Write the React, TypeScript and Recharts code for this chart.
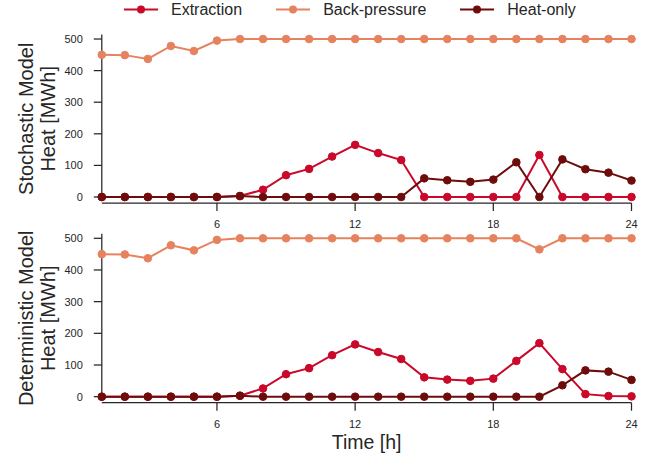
import { LineChart, Line, XAxis, YAxis, ReferenceLine } from "recharts";

const HOURS = [1, 2, 3, 4, 5, 6, 7, 8, 9, 10, 11, 12, 13, 14, 15, 16, 17, 18, 19, 20, 21, 22, 23, 24];
const X_TICKS = [6, 12, 18, 24];
const Y_TICKS = [0, 100, 200, 300, 400, 500];

const STOCH_EXTRACTION = [0, 0, 0, 0, 0, 0, 3, 23, 69, 89, 128, 165, 139, 117, 0, 0, 0, 0, 0, 133, 0, 0, 0, 0];
const STOCH_BACK_PRESSURE = [450, 449, 437, 478, 462, 495, 500, 500, 500, 500, 500, 500, 500, 500, 500, 500, 500, 500, 500, 500, 500, 500, 500, 500];
const STOCH_HEAT_ONLY = [0, 0, 0, 0, 0, 0, 3, 0, 0, 0, 0, 0, 0, 0, 59, 53, 48, 55, 110, 0, 119, 88, 77, 52];

const DET_EXTRACTION = [0, 0, 0, 0, 0, 0, 3, 26, 71, 90, 131, 165, 141, 119, 61, 54, 50, 57, 113, 169, 87, 8, 2, 1];
const DET_BACK_PRESSURE = [450, 449, 437, 478, 462, 495, 500, 500, 500, 500, 500, 500, 500, 500, 500, 500, 500, 500, 500, 465, 500, 500, 500, 500];
const DET_HEAT_ONLY = [0, 0, 0, 0, 0, 0, 3, 0, 0, 0, 0, 0, 0, 0, 0, 0, 0, 0, 0, 0, 36, 83, 79, 53];

const SERIES = [
  { key: "extraction", name: "Extraction", color: "#c9082a" },
  { key: "backPressure", name: "Back-pressure", color: "#e6825e" },
  { key: "heatOnly", name: "Heat-only", color: "#6e0c0c" },
];

const FONT = '"Liberation Sans", Arial, sans-serif';
const INK = "#262626";
const Y_DOMAIN = [-19, 514];

function buildRows(ext: number[], bp: number[], heat: number[]) {
  return HOURS.map((hour, i) => ({
    hour,
    extraction: ext[i],
    backPressure: bp[i],
    heatOnly: heat[i],
  }));
}

const stochRows = buildRows(STOCH_EXTRACTION, STOCH_BACK_PRESSURE, STOCH_HEAT_ONLY);
const detRows = buildRows(DET_EXTRACTION, DET_BACK_PRESSURE, DET_HEAT_ONLY);

// two-line rotated y label, like matplotlib's "A\nB"
function yLabel(lines: string[]) {
  // eslint-disable-next-line @typescript-eslint/no-explicit-any
  return (props: any) => {
    const vb = props.viewBox;
    const cy = vb.y + vb.height / 2;
    return (
      <g>
        {lines.map((t, i) => {
          const x = 33 + i * 22;
          return (
            <text
              key={t}
              x={x}
              y={cy}
              transform={`rotate(-90 ${x} ${cy})`}
              textAnchor="middle"
              fontSize={20}
              fontFamily={FONT}
              fill={INK}
            >
              {t}
            </text>
          );
        })}
      </g>
    );
  };
}

// eslint-disable-next-line @typescript-eslint/no-explicit-any
function timeLabel(props: any) {
  const vb = props.viewBox;
  return (
    <text
      x={vb.x + vb.width / 2}
      y={vb.y + 46.3}
      textAnchor="middle"
      fontSize={19.5}
      fontFamily={FONT}
      fill={INK}
    >
      Time [h]
    </text>
  );
}

const tickStyle = { fontSize: 11, fill: INK, fontFamily: FONT };

function Panel({
  rows,
  labelLines,
  height,
  marginTop,
  marginBottom,
  showTime,
}: {
  rows: ReturnType<typeof buildRows>;
  labelLines: string[];
  height: number;
  marginTop: number;
  marginBottom: number;
  showTime?: boolean;
}) {
  return (
    <LineChart
      width={648}
      height={height}
      data={rows}
      margin={{ top: marginTop, right: 16.5, bottom: marginBottom, left: 41.8 }}
      style={{ overflow: "visible" }}
    >
      <XAxis
        type="number"
        dataKey="hour"
        domain={[1, 24]}
        ticks={X_TICKS}
        height={29}
        tick={tickStyle}
        tickSize={8}
        tickMargin={9}
        axisLine={{ stroke: INK, strokeWidth: 1.25 }}
        tickLine={{ stroke: INK, strokeWidth: 1.25 }}
        label={showTime ? timeLabel : undefined}
      />
      <YAxis
        type="number"
        domain={Y_DOMAIN}
        ticks={Y_TICKS}
        width={60}
        tick={tickStyle}
        tickSize={8}
        tickMargin={11}
        axisLine={false}
        tickLine={{ stroke: INK, strokeWidth: 1.25 }}
        label={yLabel(labelLines)}
      />
      <ReferenceLine
        segment={[
          { x: 1, y: -11 },
          { x: 1, y: 514 },
        ]}
        stroke={INK}
        strokeWidth={1.25}
        ifOverflow="visible"
      />
      {SERIES.map((s) => (
        <Line
          key={s.key}
          type="linear"
          dataKey={s.key}
          name={s.name}
          stroke={s.color}
          strokeWidth={2}
          dot={{ r: 3.8, fill: s.color, stroke: s.color, strokeWidth: 1 }}
          activeDot={false}
          isAnimationActive={false}
        />
      ))}
    </LineChart>
  );
}

function LegendRow() {
  return (
    <div
      style={{
        position: "absolute",
        left: 124,
        top: 0,
        height: 20,
        display: "flex",
        alignItems: "center",
        fontFamily: FONT,
        fontSize: 16,
        lineHeight: "20px",
        color: INK,
        whiteSpace: "nowrap",
      }}
    >
      {SERIES.map((s, i) => (
        <div
          key={s.key}
          style={{ display: "flex", alignItems: "center", marginLeft: i === 0 ? 0 : 34 }}
        >
          <svg width={34} height={20} style={{ marginRight: 13 }}>
            <line x1={0} y1={9.5} x2={34} y2={9.5} stroke={s.color} strokeWidth={2} />
            <circle cx={17} cy={9.5} r={4} fill={s.color} />
          </svg>
          <span>{s.name}</span>
        </div>
      ))}
    </div>
  );
}

export default function App() {
  return (
    <div
      style={{
        position: "absolute",
        left: 0,
        top: 0,
        width: 648,
        height: 464,
        background: "#ffffff",
        overflow: "hidden",
      }}
    >
      <div style={{ position: "absolute", left: 0, top: 0 }}>
        <Panel
          rows={stochRows}
          labelLines={["Stochastic Model", "Heat [MWh]"]}
          height={232}
          marginTop={34.6}
          marginBottom={0}
        />
      </div>
      <div style={{ position: "absolute", left: 0, top: 212 }}>
        <Panel
          rows={detRows}
          labelLines={["Deterministic Model", "Heat [MWh]"]}
          height={252}
          marginTop={21.86}
          marginBottom={32.3}
          showTime
        />
      </div>
      <LegendRow />
    </div>
  );
}
